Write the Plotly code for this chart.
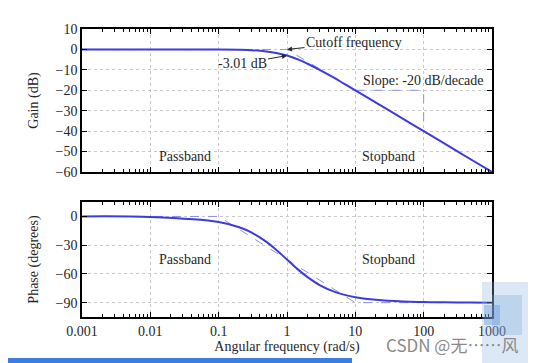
import plotly.graph_objects as go
from plotly.subplots import make_subplots

# Data
freq = [0.001, 0.01, 0.1, 0.2, 0.3, 0.5, 0.7, 1, 1.5, 2, 3, 5, 7, 10, 20, 50, 100, 200, 500, 1000]
gain_db = [0, 0, -0.04, -0.17, -0.37, -0.97, -1.7, -3.01, -5.1, -7.0, -10.0, -14.1, -17.0,
           -20.0, -26.0, -34.0, -40.0, -46.0, -54.0, -60.0]
phase_deg = [0, -0.6, -5.7, -11.3, -16.7, -26.6, -35.0, -45.0, -56.3, -63.4, -71.6, -78.7,
             -81.9, -84.3, -87.1, -88.9, -89.4, -89.7, -89.9, -90.0]

gain_asym_f = [0.001, 1, 1000]
gain_asym_db = [0, 0, -60]
slope_f = [10, 100, 100]
slope_db = [-20, -20, -40]
phase_asym_f = [0.001, 0.1, 10, 1000]
phase_asym_deg = [0, 0, -90, -90]

x_tickvals = [0.001, 0.01, 0.1, 1, 10, 100, 1000]
x_ticktext = ["0.001", "0.01", "0.1", "1", "10", "100", "1000"]
gain_ticks = [10, 0, -10, -20, -30, -40, -50, -60]
phase_ticks = [0, -30, -60, -90]

SERIF = "Liberation Serif"
CURVE = "#3c3cdc"
ASYM = "#9090ea"
TXT = "#262626"

fig = make_subplots(rows=2, cols=1, shared_xaxes=False, vertical_spacing=0.1)

fig.add_trace(go.Scatter(x=gain_asym_f, y=gain_asym_db, mode="lines",
                         line=dict(color=ASYM, width=1, dash="dash")), row=1, col=1)
fig.add_trace(go.Scatter(x=slope_f, y=slope_db, mode="lines",
                         line=dict(color=ASYM, width=1, dash="dash")), row=1, col=1)
fig.add_trace(go.Scatter(x=freq, y=gain_db, mode="lines", line_shape="spline",
                         line=dict(color=CURVE, width=2)), row=1, col=1)

fig.add_trace(go.Scatter(x=phase_asym_f, y=phase_asym_deg, mode="lines",
                         line=dict(color=ASYM, width=1, dash="dash")), row=2, col=1)
fig.add_trace(go.Scatter(x=freq, y=phase_deg, mode="lines", line_shape="spline",
                         line=dict(color=CURVE, width=2)), row=2, col=1)

axis_common = dict(
    showline=True, linecolor="black", linewidth=1.5, mirror="ticks",
    ticks="inside", ticklen=5, tickcolor="black", tickwidth=1,
    showgrid=True, gridcolor="#c8c8c8", griddash="dot", gridwidth=1,
    zeroline=False, tickfont=dict(family=SERIF, size=14, color=TXT),
)

for r in (1, 2):
    fig.update_xaxes(type="log", range=[-3, 3], tickvals=x_tickvals,
                     ticktext=x_ticktext if r == 2 else [""] * 7,
                     minor=dict(ticks="inside", ticklen=3, tickcolor="black",
                                dtick="D1", showgrid=False),
                     row=r, col=1, **axis_common)

fig.update_xaxes(title=dict(text="Angular frequency (rad/s)", font=dict(family=SERIF, size=14, color=TXT),
                            standoff=3), row=2, col=1)
fig.update_yaxes(range=[-60, 10], tickvals=gain_ticks, domain=[0.5035, 1.0],
                 title=dict(text="Gain (dB)", font=dict(family=SERIF, size=14, color=TXT), standoff=14),
                 row=1, col=1, **axis_common)
fig.update_yaxes(range=[-105, 15], tickvals=phase_ticks, domain=[0.0, 0.399],
                 title=dict(text="Phase (degrees)", font=dict(family=SERIF, size=14, color=TXT), standoff=14),
                 row=2, col=1, **axis_common)

tfont = dict(family=SERIF, size=14, color=TXT)
ann = [
    dict(x=0, y=0, xref="x", yref="y", text="Cutoff frequency", showarrow=True,
         arrowhead=2, arrowsize=1, arrowwidth=1, arrowcolor=TXT,
         ax=67, ay=-7, font=tfont),
    dict(x=0, y=-3.01, xref="x", yref="y", text="-3.01 dB", showarrow=True,
         arrowhead=2, arrowsize=1, arrowwidth=1, arrowcolor=TXT,
         ax=-45, ay=8, font=tfont),
    dict(x=2.0, y=-15.1, xref="x", yref="y", text="Slope: -20 dB/decade",
         showarrow=False, font=tfont),
    dict(x=-1.49, y=-52.6, xref="x", yref="y", text="Passband", showarrow=False, font=tfont),
    dict(x=1.49, y=-52.6, xref="x", yref="y", text="Stopband", showarrow=False, font=tfont),
    dict(x=-1.49, y=-45.3, xref="x2", yref="y2", text="Passband", showarrow=False, font=tfont),
    dict(x=1.49, y=-45.3, xref="x2", yref="y2", text="Stopband", showarrow=False, font=tfont),
    dict(x=452, y=344, xref="paper", yref="paper", text="CSDN @无……风", showarrow=False,
         xanchor="center", yanchor="middle",
         font=dict(family="Noto Sans CJK SC", size=17, color="#8a8a8a")),
]
# watermark given in window pixels -> paper coords
for a in ann:
    if a.get("xref") == "paper":
        a["x"] = (a["x"] - 82) / 410
        a["y"] = (317 - a["y"]) / 288

def px_rect(x0, y0, x1, y1, color):
    return dict(type="rect", xref="paper", yref="paper",
                x0=(x0 - 82) / 410, x1=(x1 - 82) / 410,
                y0=(317 - y1) / 288, y1=(317 - y0) / 288,
                fillcolor=color, line=dict(width=0), layer="above")

shapes = [
    px_rect(0, 358, 352, 363, "#3b7de0"),
    px_rect(482, 282, 536, 363, "rgba(140,180,225,0.30)"),
    px_rect(492, 295, 522, 335, "rgba(120,165,215,0.30)"),
    px_rect(484, 305, 500, 325, "rgba(90,140,210,0.35)"),
]

fig.update_layout(
    width=528, height=355,
    margin=dict(l=74, r=44, t=21, b=46),
    paper_bgcolor="white", plot_bgcolor="white",
    showlegend=False,
    annotations=ann, shapes=shapes,
    font=dict(family=SERIF, size=14, color=TXT),
)

fig.write_html("out.html")
